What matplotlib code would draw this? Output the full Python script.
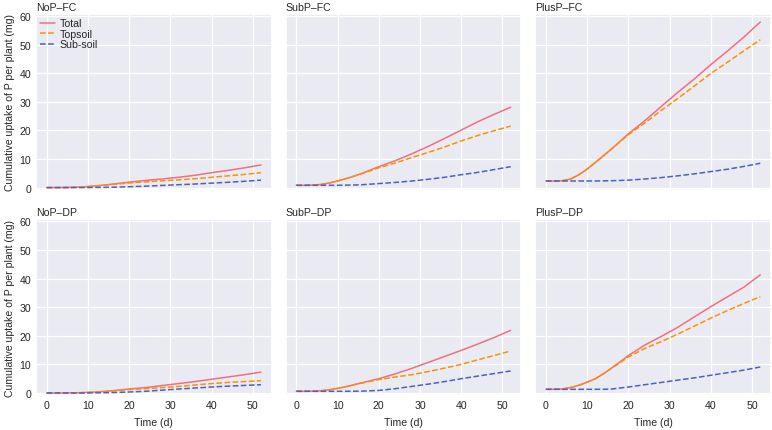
import matplotlib
matplotlib.use("Agg")
import matplotlib.pyplot as plt
import seaborn as sns

sns.set_theme(style="darkgrid")
plt.rcParams['font.family'] = ['Liberation Sans', 'DejaVu Sans']

time_d = [0, 2, 4, 6, 8, 10, 12, 14, 16, 20, 24, 28, 32, 36, 40, 44, 48, 52]

panel_titles = ["NoP\u2013FC", "SubP\u2013FC", "PlusP\u2013FC",
                "NoP\u2013DP", "SubP\u2013DP", "PlusP\u2013DP"]
series_names = ["Total", "Topsoil", "Sub-soil"]

nop_fc_total = [0, 0, 0.02, 0.08, 0.18, 0.35, 0.6, 0.9, 1.2, 1.9, 2.5, 3.0, 3.6, 4.3, 5.2, 6.0, 6.9, 7.9]
nop_fc_top = [0, 0, 0.02, 0.08, 0.18, 0.33, 0.55, 0.82, 1.1, 1.6, 2.0, 2.35, 2.7, 3.1, 3.6, 4.1, 4.6, 5.2]
nop_fc_sub = [0, 0, 0, 0, 0, 0.02, 0.05, 0.08, 0.12, 0.3, 0.5, 0.75, 1.0, 1.25, 1.55, 1.85, 2.2, 2.6]

subp_fc_total = [0.8, 0.8, 0.85, 1.1, 1.6, 2.3, 3.1, 4.0, 5.0, 7.3, 9.4, 11.8, 14.4, 17.2, 20.1, 23.0, 25.6, 28.1]
subp_fc_top = [0.8, 0.8, 0.85, 1.1, 1.6, 2.3, 3.1, 4.0, 4.9, 6.9, 8.6, 10.5, 12.3, 14.2, 16.3, 18.2, 19.9, 21.5]
subp_fc_sub = [0.8, 0.8, 0.8, 0.8, 0.8, 0.8, 0.85, 0.9, 1.0, 1.4, 1.8, 2.3, 2.9, 3.6, 4.5, 5.3, 6.3, 7.3]

plusp_fc_total = [2.3, 2.3, 2.4, 3.0, 4.5, 6.5, 8.8, 11.2, 13.6, 18.8, 23.4, 28.4, 33.3, 38.0, 43.0, 47.7, 52.6, 57.9]
plusp_fc_top = [2.3, 2.3, 2.4, 3.0, 4.5, 6.5, 8.8, 11.2, 13.6, 18.5, 22.6, 27.0, 31.2, 35.5, 39.9, 43.8, 47.8, 51.7]
plusp_fc_sub = [2.3, 2.3, 2.3, 2.3, 2.3, 2.3, 2.3, 2.35, 2.4, 2.6, 3.0, 3.5, 4.1, 4.8, 5.6, 6.4, 7.4, 8.5]

nop_dp_total = [0, 0, 0, 0.05, 0.1, 0.2, 0.35, 0.55, 0.8, 1.4, 1.9, 2.6, 3.3, 4.0, 4.8, 5.6, 6.4, 7.3]
nop_dp_top = [0, 0, 0, 0.05, 0.1, 0.2, 0.33, 0.5, 0.72, 1.2, 1.5, 1.9, 2.3, 2.8, 3.3, 3.7, 4.0, 4.3]
nop_dp_sub = [0, 0, 0, 0, 0, 0.02, 0.05, 0.1, 0.15, 0.35, 0.6, 1.0, 1.4, 1.75, 2.1, 2.4, 2.65, 2.9]

subp_dp_total = [0.6, 0.6, 0.65, 0.8, 1.1, 1.6, 2.2, 2.9, 3.6, 5.0, 6.7, 8.6, 10.7, 12.8, 14.9, 17.1, 19.4, 21.9]
subp_dp_top = [0.6, 0.6, 0.65, 0.8, 1.1, 1.6, 2.2, 2.9, 3.5, 4.7, 5.6, 6.4, 7.5, 8.7, 10.0, 11.6, 13.1, 14.7]
subp_dp_sub = [0.6, 0.6, 0.6, 0.6, 0.6, 0.6, 0.6, 0.62, 0.65, 0.9, 1.5, 2.3, 3.1, 4.0, 5.0, 5.9, 6.8, 7.7]

plusp_dp_total = [1.3, 1.3, 1.4, 1.9, 2.7, 3.8, 5.0, 6.8, 8.8, 13.1, 16.8, 19.8, 23.0, 26.6, 30.2, 33.6, 37.0, 41.3]
plusp_dp_top = [1.3, 1.3, 1.4, 1.9, 2.7, 3.8, 5.0, 6.8, 8.7, 12.6, 15.6, 18.0, 20.6, 23.4, 26.2, 28.8, 31.3, 33.7]
plusp_dp_sub = [1.3, 1.3, 1.3, 1.3, 1.3, 1.3, 1.3, 1.3, 1.4, 2.1, 2.9, 3.7, 4.5, 5.3, 6.2, 7.1, 8.0, 9.1]

panels = [
    (nop_fc_total, nop_fc_top, nop_fc_sub),
    (subp_fc_total, subp_fc_top, subp_fc_sub),
    (plusp_fc_total, plusp_fc_top, plusp_fc_sub),
    (nop_dp_total, nop_dp_top, nop_dp_sub),
    (subp_dp_total, subp_dp_top, subp_dp_sub),
    (plusp_dp_total, plusp_dp_top, plusp_dp_sub),
]

colors = ["#f0707e", "#ff9000", "#4a62c0"]
styles = ["-", "--", "--"]
FS = 7.6

fig, axes = plt.subplots(2, 3, figsize=(7.72, 4.31), dpi=100, sharex=True, sharey=True)
fig.subplots_adjust(left=0.0466, right=0.9987, top=0.9652, bottom=0.0812, wspace=0.059, hspace=0.17)

for ax, title, data in zip(axes.flat, panel_titles, panels):
    ax.set_facecolor("#eaeaf2")
    for vals, name, c, ls in zip(data, series_names, colors, styles):
        ax.plot(time_d, vals, color=c, linestyle=ls, linewidth=1.1, label=name)
    ax.set_title(title, loc="left", fontsize=FS, pad=3)
    ax.set_ylim(-0.7, 60.7)
    ax.set_yticks([0, 10, 20, 30, 40, 50, 60])
    ax.set_xticks([0, 10, 20, 30, 40, 50])
    ax.tick_params(labelsize=FS, pad=3.5, length=0)
    ax.grid(True, color="white", linewidth=0.9)

for ax in axes[:, 0]:
    ax.set_ylabel("Cumulative uptake of P per plant (mg)", fontsize=FS, labelpad=3)
for ax in axes[1, :]:
    ax.set_xlabel("Time (d)", fontsize=FS, labelpad=5)

axes[0, 0].legend(loc="upper left", frameon=False, fontsize=FS, handlelength=1.4,
                  borderaxespad=0.1, borderpad=0.3, labelspacing=0.05, handletextpad=0.45)

fig.savefig("out.png", dpi=100)
